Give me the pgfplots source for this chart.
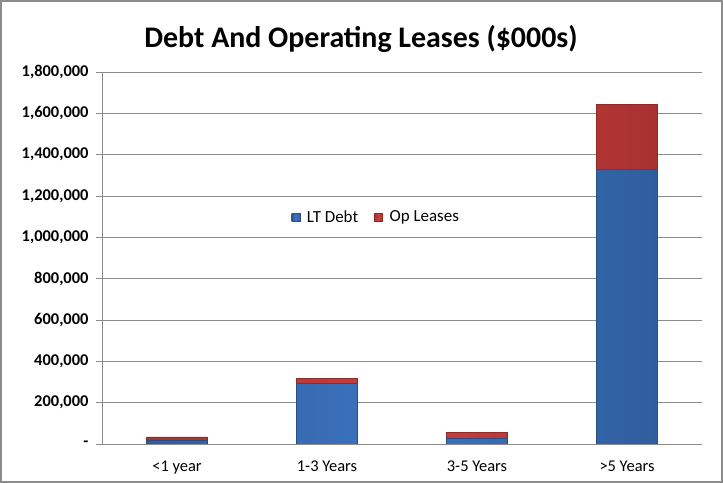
\documentclass[border=0pt]{standalone}
\usepackage{pgfplots}
\pgfplotsset{compat=1.18}
\usepackage{fontspec}
\setmainfont{Carlito}
\definecolor{ltblue}{HTML}{3C74C0}
\definecolor{ltblueE}{HTML}{2F5E9E}
\definecolor{ltblueD}{HTML}{284F85}
\definecolor{opred}{HTML}{C93F3D}
\definecolor{opredE}{HTML}{A83230}
\definecolor{opredD}{HTML}{8E2A28}
\definecolor{gridg}{HTML}{8C8C8C}
\pgfplotstableread{
x lt op
0 18000 16000
1 295000 24000
2 29000 29000
3 1330000 315000
}\datatable
\begin{document}
\begin{tikzpicture}[x=1bp,y=1bp]
\useasboundingbox (-102bp,-39bp) rectangle (621bp,444bp);
\draw[gridg,line width=1.2bp] (-101bp,-38bp) rectangle (620bp,443bp);
\node[font=\bfseries\fontsize{30}{32}\selectfont] at (259bp,405bp) {Debt And Operating Leases (\$000s)};
\begin{axis}[
  at={(0,0)}, anchor=south west,
  scale only axis, width=600bp, height=372bp,
  ybar stacked, bar width=0.405,
  xmin=-0.5, xmax=3.5, ymin=0, ymax=1800000,
  scaled y ticks=false,
  axis x line*=bottom, axis y line*=left,
  axis line style={gridg, line width=0.8bp},
  xtick={0,1,2,3}, xticklabels={<1 year,1-3 Years,3-5 Years,>5 Years},
  extra x ticks={-0.5,0.5,1.5,2.5,3.5}, extra x tick labels={},
  extra x tick style={major tick length=6bp, tick style={gridg, line width=0.8bp}, grid=none},
  x tick style={draw=none},
  ytick={0,200000,400000,600000,800000,1000000,1200000,1400000,1600000,1800000},
  yticklabels={-,{200,000},{400,000},{600,000},{800,000},{1,000,000},{1,200,000},{1,400,000},{1,600,000},{1,800,000}},
  y tick style={gridg, line width=0.8bp}, major tick length=6bp,
  tick align=outside,
  ymajorgrids, grid style={gridg, line width=0.8bp},
  y tick label style={font=\bfseries\fontsize{16.5}{18}\selectfont, xshift=-4bp},
  x tick label style={font=\fontsize{16.5}{18}\selectfont, yshift=-7bp},
  legend style={at={(0.457,0.61)}, anchor=center, draw=none, fill=none,
     font=\fontsize{17}{19}\selectfont, legend columns=2,
     /tikz/every even column/.append style={column sep=14bp},
     /tikz/every odd column/.append style={column sep=5bp}},
  legend image code/.code={\draw[#1] (0bp,-4bp) rectangle (8bp,4bp);},
]
\addplot[left color=ltblueE, right color=ltblueE, middle color=ltblue, draw=ltblueD] table[x=x,y=lt] {\datatable};
\addplot[left color=opredE, right color=opredE, middle color=opred, draw=opredD] table[x=x,y=op] {\datatable};
\legend{LT Debt, Op Leases}
\end{axis}
\end{tikzpicture}
\end{document}
